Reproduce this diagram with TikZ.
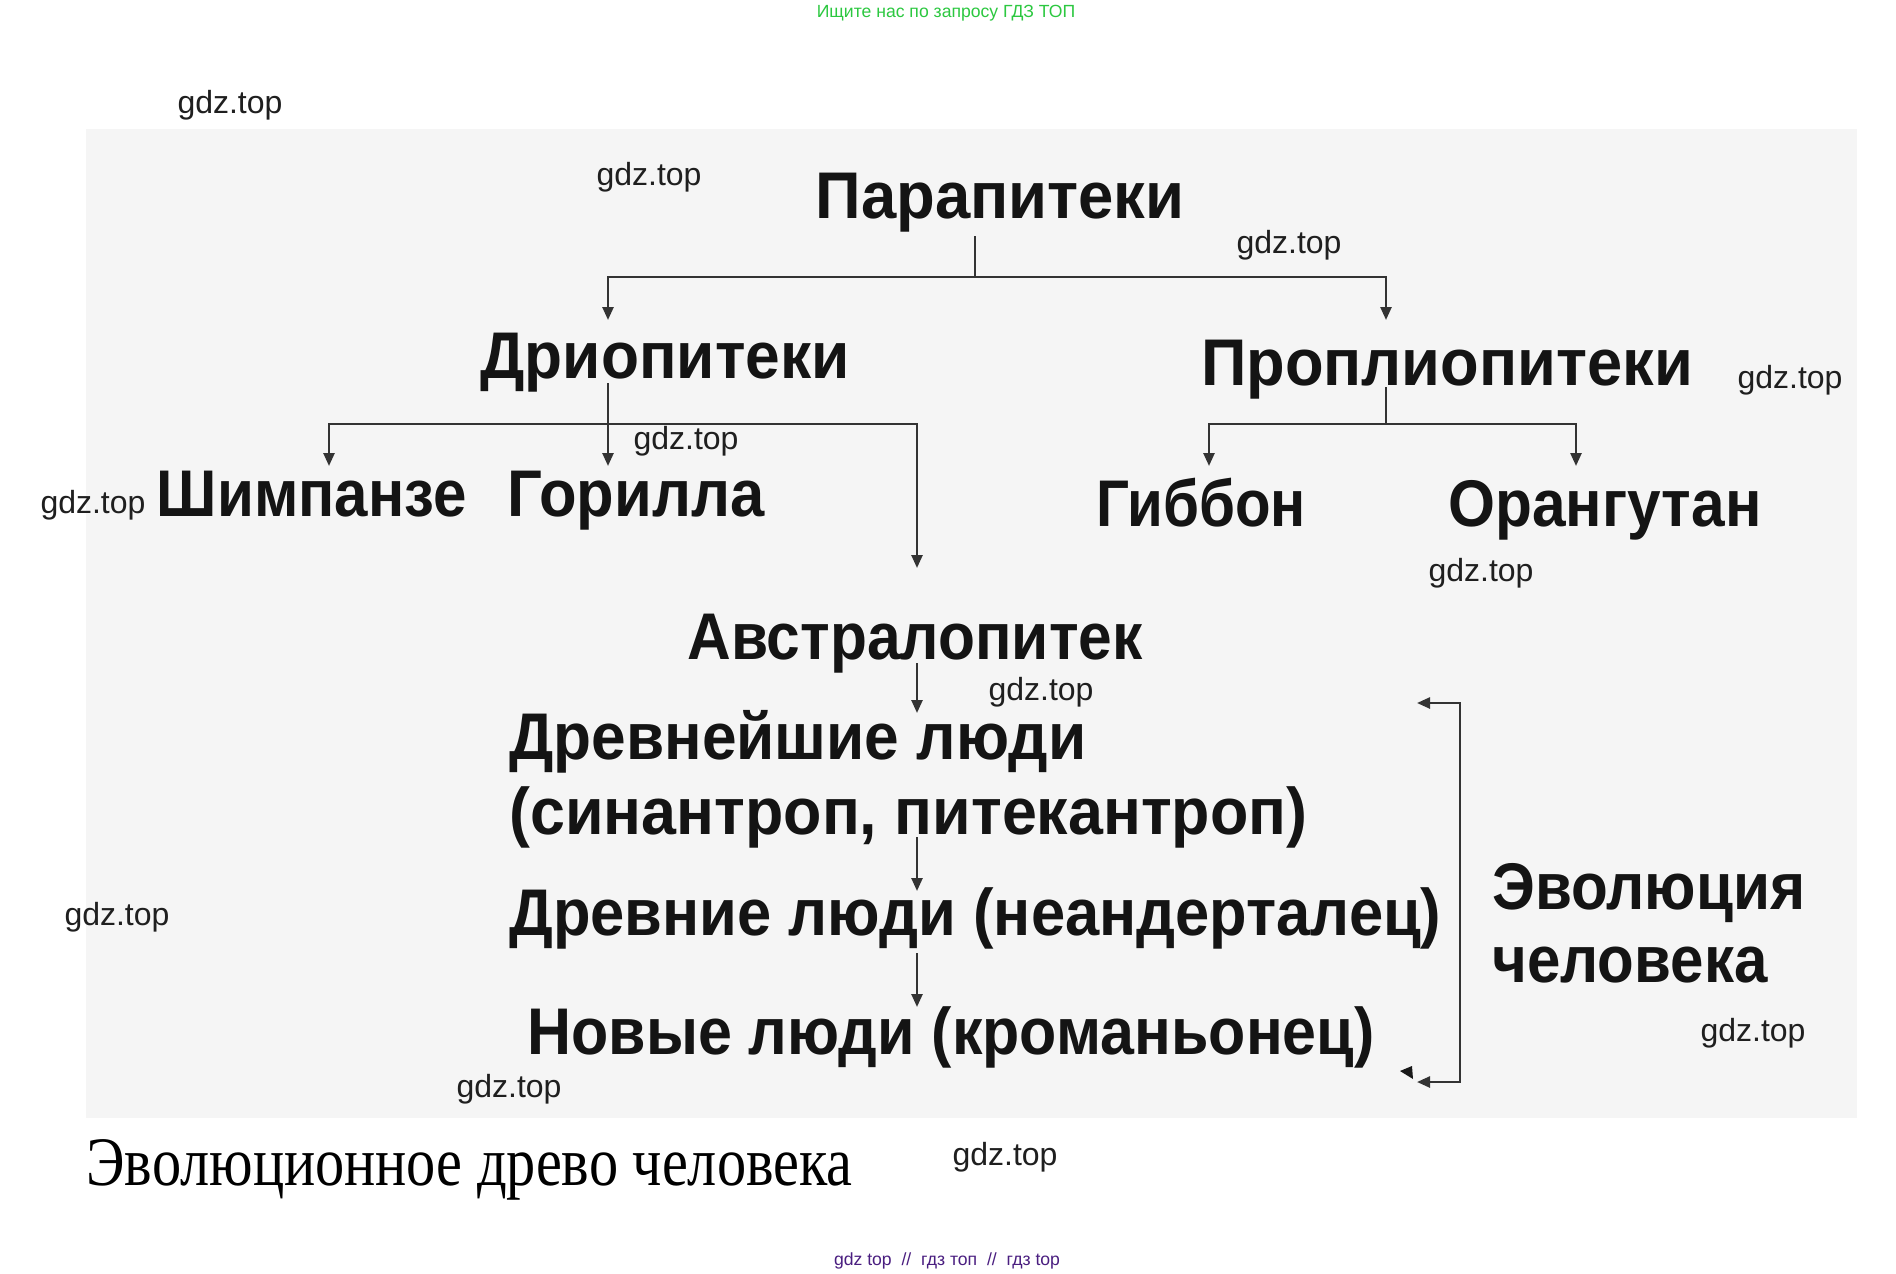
\documentclass[tikz,border=0pt]{standalone}
\usepackage{fontspec}
\usepackage{graphicx}
\setmainfont{Liberation Sans}
\newfontfamily\comic{Liberation Sans}
\newfontfamily\wmfont{Liberation Sans}
\newfontfamily\capfont{Liberation Serif}[FakeStretch=0.84]
\usetikzlibrary{arrows.meta}
\definecolor{bggray}{HTML}{F5F5F5}
\definecolor{linegray}{HTML}{333333}
\definecolor{adgreen}{RGB}{44,200,64}
\definecolor{adpurple}{RGB}{74,30,128}
\newcommand\fw[2]{\resizebox{#1pt}{\height}{#2}}
\begin{document}
\begin{tikzpicture}[x=0.5pt,y=-0.5pt,
  lbl/.style={font=\fontsize{33}{40}\comic\bfseries, inner sep=0pt, text=black!92},
  wm/.style={font=\fontsize{16}{19}\wmfont, inner sep=0pt, text=black!88},
  line/.style={draw=linegray, line width=1.25pt},
  arr/.style={line, -{Triangle[length=6.5pt,width=5.5pt]}},
  darr/.style={line, {Triangle[length=6.5pt,width=5.5pt]}-{Triangle[length=6.5pt,width=5.5pt]}}]
\useasboundingbox (0,0) rectangle (1896,1274);
\fill[white] (0,0) rectangle (1896,1274);
\fill[bggray] (86,129) rectangle (1857,1118);

% header / footer
\node[inner sep=0pt, anchor=base, text=adgreen, font=\fontsize{8.8}{10}\wmfont] (head) at (946,18) {Ищите нас по запросу ГДЗ ТОП};
\node[inner sep=0pt, anchor=base, text=adpurple, font=\fontsize{9.5}{11}\wmfont] (foot) at (947,1265) {\resizebox{113pt}{!}{gdz top\ \ //\ \ гдз топ\ \ //\ \ гдз top}};

% main labels
\node[lbl, anchor=base] (para) at (1000,218) {\fw{184.5}{Парапитеки}};
\node[lbl, anchor=base] (drio) at (665,378) {\fw{184.5}{Дриопитеки}};
\node[lbl, anchor=base] (prop) at (1447,385) {\fw{246}{Проплиопитеки}};
\node[lbl, anchor=base] (shim) at (312,516) {\fw{155}{Шимпанзе}};
\node[lbl, anchor=base] (gor) at (636,516) {\fw{128.5}{Горилла}};
\node[lbl, anchor=base] (gib) at (1201,526) {\fw{105}{Гиббон}};
\node[lbl, anchor=base] (ora) at (1605,526) {\fw{156.5}{Орангутан}};
\node[lbl, anchor=base] (avs) at (915,659) {\fw{227.5}{Австралопитек}};
\node[lbl, anchor=base west] (drevn1) at (509,759) {\fw{288.5}{Древнейшие люди}};
\node[lbl, anchor=base west] (drevn2) at (509,834) {\fw{399}{(синантроп, питекантроп)}};
\node[lbl, anchor=base west] (drevnie) at (509,935) {\fw{466}{Древние люди (неандерталец)}};
\node[lbl, anchor=base west] (novye) at (527,1054) {\fw{423.5}{Новые люди (кроманьонец)}};
\node[lbl, anchor=base west] (evol1) at (1492,909) {\fw{156.5}{Эволюция}};
\node[lbl, anchor=base west] (evol2) at (1492,982) {\fw{137.5}{человека}};

% caption
\node[inner sep=0pt, anchor=base west, font=\fontsize{34.7}{40}\capfont, text=black] (cap) at (86,1185) {Эволюционное древо человека};

% connectors: Парапитеки
\coordinate (p0) at (975,236);
\coordinate (p1) at (975,277);
\coordinate (tdrio) at (608,320);
\coordinate (tprop) at (1386,320);
\draw[line] (p0) -- (p1);
\draw[arr] (p1) -| (tdrio);
\draw[arr] (p1) -| (tprop);

% Дриопитеки
\coordinate (d0) at (608,383);
\coordinate (dj) at (608,424);
\coordinate (tgor) at (608,466);
\coordinate (tshim) at (329,466);
\coordinate (tavs) at (917,568);
\draw[arr] (d0) -- (tgor);
\draw[arr] (dj) -| (tshim);
\draw[arr] (dj) -| (tavs);

% Проплиопитеки
\coordinate (q0) at (1386,387);
\coordinate (qj) at (1386,424);
\coordinate (tgib) at (1209,466);
\coordinate (tora) at (1576,466);
\draw[line] (q0) -- (qj);
\draw[arr] (qj) -| (tgib);
\draw[arr] (qj) -| (tora);

% chain
\coordinate (a0) at (917,663); \coordinate (a1) at (917,713);
\coordinate (b0) at (917,837); \coordinate (b1) at (917,891);
\coordinate (c0) at (917,953); \coordinate (c1) at (917,1007);
\draw[arr] (a0) -- (a1);
\draw[arr] (b0) -- (b1);
\draw[arr] (c0) -- (c1);

% bracket
\coordinate (etop) at (1417,703);
\coordinate (e0) at (1460,703);
\coordinate (e1) at (1460,1082);
\coordinate (ebot) at (1417,1082);
\draw[darr] (etop) -- (e0) -- (e1) -- (ebot);
\fill[black!90] (1400,1071) -- (1412,1066) -- (1413,1079) -- cycle;

% watermarks
\node[wm] (w1) at (230,105) {gdz.top};
\node[wm] (w2) at (649,177) {gdz.top};
\node[wm] (w3) at (1289,245) {gdz.top};
\node[wm] (w4) at (1790,380) {gdz.top};
\node[wm] (w5) at (686,441) {gdz.top};
\node[wm] (w6) at (93,505) {gdz.top};
\node[wm] (w7) at (1481,573) {gdz.top};
\node[wm] (w8) at (1041,692) {gdz.top};
\node[wm] (w9) at (117,917) {gdz.top};
\node[wm] (w10) at (1753,1033) {gdz.top};
\node[wm] (w11) at (509,1089) {gdz.top};
\node[wm] (w12) at (1005,1157) {gdz.top};
\end{tikzpicture}
\end{document}
